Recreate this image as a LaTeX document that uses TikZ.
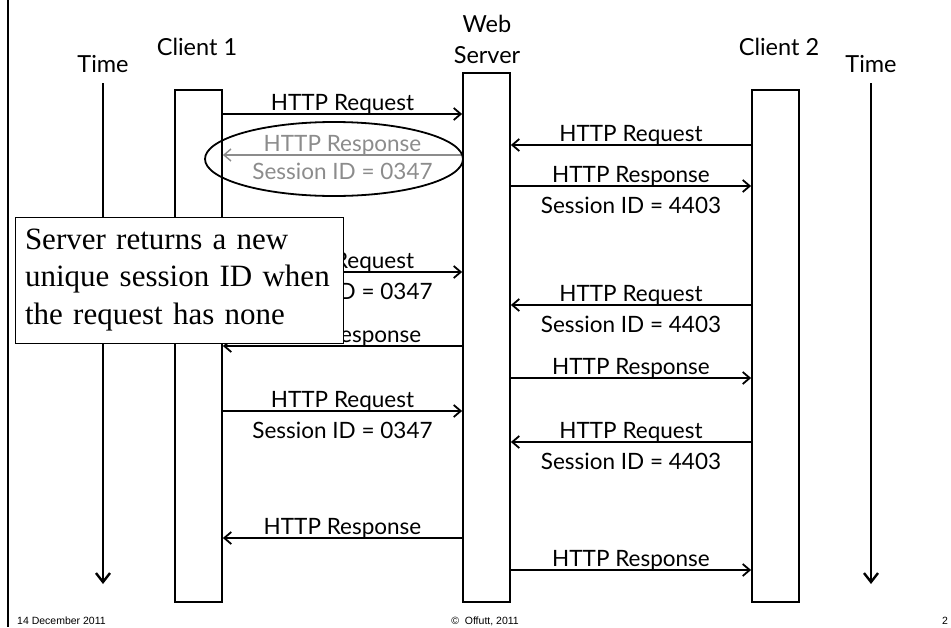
\documentclass[tikz,border=0pt]{standalone}
\usepackage{fontspec}
\setmainfont{Lato}
\newfontfamily\notefont{Liberation Serif}
\newfontfamily\footfont{Liberation Sans}
\usepackage{xcolor}
\usetikzlibrary{positioning,arrows.meta,shapes.geometric}
\definecolor{faded}{gray}{0.55}

\begin{document}
\begin{tikzpicture}[x=1pt, y=-1pt,
  lifeline/.style={draw, line width=1.8pt, minimum width=47pt, inner sep=0pt},
  msg/.style={-{Straight Barb[length=7pt, width=12pt]}, line width=1.8pt},
  oldmsg/.style={msg, draw=faded, line width=1.4pt},
  lab/.style={anchor=base, inner sep=0pt, font=\fontsize{22.5}{26}\selectfont},
  head/.style={anchor=base, inner sep=0pt, font=\fontsize{23.5}{28}\selectfont},
  timeline/.style={-{Straight Barb[length=9pt, width=14pt]}, line width=2.4pt},
  note/.style={draw, fill=white, line width=0.8pt, align=left, text width=308pt,
               inner xsep=10pt, minimum height=126pt,
               font=\notefont\fontsize{31}{37.5}\selectfont},
  foot/.style={anchor=base, inner sep=0pt, font=\footfont\fontsize{10.5}{12}\selectfont}]
  \useasboundingbox (0,0) rectangle (951,627);
  \draw[line width=2pt] (8,0) -- (8,627);
  % lifelines
  \node[lifeline, minimum height=512pt] (cli1) at (198.5,346) {};
  \node[lifeline, minimum height=529pt] (srv)  at (486.5,337.5) {};
  \node[lifeline, minimum height=512pt] (cli2) at (775.5,346) {};
  \node[head] (time1) at (103,72) {Time};
  \node[head] (cli1lab) at (197,55) {Client 1};
  \node[head] (weblab) at (487,32) {Web};
  \node[head] (srvlab) at (487,63) {Server};
  \node[head] (cli2lab) at (779,55) {Client 2};
  \node[head] (time2) at (871,72) {Time};
  \coordinate (time1end) at (103,584);
  \coordinate (time2end) at (871,584);
  \draw[timeline] (time1 |- 0,83) -- (time1end);
  \draw[timeline] (time2 |- 0,83) -- (time2end);
  % messages
  \foreach \y/\p/\q/\txt in {114/cli1.east/srv.west/HTTP Request,
      145/cli2.west/srv.east/HTTP Request, 186/srv.east/cli2.west/HTTP Response,
      272/cli1.east/srv.west/HTTP Request, 305/cli2.west/srv.east/HTTP Request,
      346/srv.west/cli1.east/HTTP Response, 378/srv.east/cli2.west/HTTP Response,
      411/cli1.east/srv.west/HTTP Request, 442/cli2.west/srv.east/HTTP Request,
      538/srv.west/cli1.east/HTTP Response, 570/srv.east/cli2.west/HTTP Response}
    \draw[msg] (\p |- 0,\y) -- node[lab, yshift=4pt] {\txt} (\q |- 0,\y);
  \foreach \y/\p/\q/\txt in {186/srv.east/cli2.west/4403, 272/cli1.east/srv.west/0347,
      305/cli2.west/srv.east/4403, 411/cli1.east/srv.west/0347,
      442/cli2.west/srv.east/4403}
    \path (\p |- 0,\y) -- node[lab, yshift=-27pt] {Session ID = \txt} (\q |- 0,\y);
  \draw[oldmsg] (srv.west |- 0,155) -- node[lab, yshift=4pt, text=faded] {HTTP Response}
    node[lab, yshift=-24pt, text=faded] {Session ID = 0347} (cli1.east |- 0,155);
  \node[ellipse, draw, line width=1.8pt, minimum width=258pt, minimum height=74pt] (hilite) at (334,159) {};
  % callout
  \node[note] (remark) at (179,280) {Server returns a new\\unique session ID when\\the request has none};
  % footer
  \node[foot, anchor=base west] (date) at (17,624) {14 December 2011};
  \node[foot] (copy) at (485,624) {\textcopyright\ \ Offutt, 2011};
  \node[foot] (page) at (945,624) {2};
\end{tikzpicture}
\end{document}
